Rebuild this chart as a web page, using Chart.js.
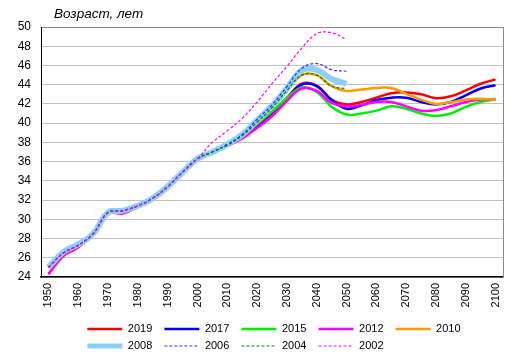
<!DOCTYPE html>
<html>
<head>
<meta charset="utf-8">
<script src="https://cdn.jsdelivr.net/npm/chart.js@4.4.1/dist/chart.umd.min.js"></script>
<style>
  html, body { margin: 0; padding: 0; background: #fff; }
  #wrap { position: relative; width: 517px; height: 357px; }
  #title { position: absolute; left: 54px; top: 7px; font: italic 13.5px "Liberation Sans", Arial, sans-serif; line-height: 1; color: #000; white-space: nowrap; }
</style>
</head>
<body>
<div id="wrap">
  <canvas id="c" width="517" height="357"></canvas>
  <div id="title">Возраст, лет</div>
</div>
<script>
const years = [];
for (let y = 1950; y <= 2100; y += 5) years.push(String(y));

const yTicks = [24, 26, 28, 30, 32, 34, 36, 38, 40, 42, 44, 46, 48, 50];

const seriesNames = ['2019', '2017', '2015', '2012', '2010', '2008', '2006', '2004', '2002'];

const v2019 = [24.3, 26.2, 27.1, 28.5, 30.7, 30.9, 31.4, 32.2, 33.4, 34.9, 36.3, 37.0, 37.7, 38.5, 39.7, 41.0, 42.6, 44.1, 43.9, 42.45, 41.95, 42.2, 42.65, 43.1, 43.2, 43.0, 42.6, 42.8, 43.4, 44.1, 44.55];
const v2017 = [25.0, 26.5, 27.3, 28.5, 30.7, 30.9, 31.4, 32.2, 33.4, 34.9, 36.3, 37.0, 37.7, 38.5, 39.8, 41.1, 42.6, 44.0, 43.85, 42.4, 41.5, 41.85, 42.4, 42.65, 42.65, 42.2, 41.95, 42.2, 42.9, 43.6, 43.95];
const v2015 = [25.0, 26.5, 27.3, 28.5, 30.9, 30.9, 31.4, 32.2, 33.4, 34.9, 36.3, 37.0, 37.7, 38.6, 39.9, 41.2, 42.6, 43.7, 43.25, 41.7, 40.9, 41.0, 41.3, 41.75, 41.5, 41.0, 40.75, 41.0, 41.7, 42.2, 42.45];
const v2012 = [24.3, 26.2, 27.1, 28.4, 30.6, 30.6, 31.3, 32.2, 33.4, 34.9, 36.3, 37.0, 37.6, 38.4, 39.5, 40.7, 42.3, 43.6, 43.35, 42.1, 41.75, 41.9, 42.2, 42.2, 41.75, 41.3, 41.35, 41.75, 42.2, 42.45, 42.5];
const v2010 = [25.0, 26.5, 27.3, 28.5, 30.7, 30.9, 31.4, 32.2, 33.4, 34.9, 36.3, 37.0, 37.7, 38.6, 40.0, 41.5, 43.3, 45.0, 45.0, 43.85, 43.35, 43.5, 43.65, 43.65, 43.05, 42.45, 42.0, 42.2, 42.45, 42.55, 42.45];
const v2008 = [25.0, 26.6, 27.4, 28.5, 30.7, 30.9, 31.4, 32.2, 33.4, 34.9, 36.3, 37.0, 37.8, 38.8, 40.3, 41.8, 43.6, 45.5, 45.55, 44.6, 44.1];
const v2006 = [25.0, 26.5, 27.3, 28.5, 30.7, 30.9, 31.4, 32.2, 33.4, 34.9, 36.3, 37.0, 37.8, 38.8, 40.4, 41.9, 43.8, 45.7, 46.2, 45.55, 45.4];
const v2004 = [25.0, 26.5, 27.3, 28.5, 30.7, 30.9, 31.4, 32.2, 33.4, 34.9, 36.3, 37.0, 37.7, 38.7, 40.1, 41.6, 43.4, 45.0, 45.0, 43.85, 43.6];
const v2002 = [25.0, 26.5, 27.3, 28.5, 30.7, 30.9, 31.4, 32.2, 33.4, 34.9, 36.3, 38.0, 39.2, 40.5, 42.2, 44.1, 45.9, 47.8, 49.3, 49.4, 48.7];

const values = [v2019, v2017, v2015, v2012, v2010, v2008, v2006, v2004, v2002];
const colors = ['#ff0000', '#0000ff', '#00f000', '#ff00ff', '#ff9900', '#8ccffa', '#2a2aff', '#008000', '#ff00ff'];
const widths = [2.5, 2.5, 2.5, 2.5, 2.5, 6, 1.2, 1.2, 1.2];
const dashes = [[], [], [], [], [], [], [3, 2], [3, 2], [3, 2]];

const datasets = seriesNames.map((name, i) => ({
  label: name,
  data: values[i],
  borderColor: colors[i],
  backgroundColor: colors[i],
  borderWidth: widths[i],
  borderDash: dashes[i],
  pointRadius: 0,
  pointHoverRadius: 0,
  tension: 0.4,
  fill: false,
  order: seriesNames.length - 1 - i
}));

const FONT = '"Liberation Sans", Arial, sans-serif';

const legendShift = {
  id: 'legendShift',
  afterLayout(chart) {
    const lg = chart.legend;
    if (lg) { lg.left += 5; lg.right += 5; }
  }
};

new Chart(document.getElementById('c'), {
  type: 'line',
  data: { labels: years, datasets },
  plugins: [legendShift],
  options: {
    responsive: false,
    animation: false,
    events: [],
    layout: { padding: { top: 27, right: 14, left: 0, bottom: -4.5 } },
    scales: {
      x: {
        type: 'category',
        offset: true,
        grid: { display: false, drawTicks: false },
        border: { display: true, color: '#000', width: 1.5 },
        ticks: {
          autoSkip: false,
          maxRotation: 90,
          minRotation: 90,
          padding: 6,
          color: '#000',
          font: { family: FONT, size: 11 },
          callback: function (val) {
            const lab = this.getLabelForValue(val);
            return (+lab) % 10 === 0 ? lab : '';
          }
        },
        afterFit: (s) => { s.height = 40.5; }
      },
      y: {
        min: 24,
        max: 50,
        afterBuildTicks: (s) => { s.ticks = yTicks.map(v => ({ value: v })); },
        grid: {
          drawTicks: false,
          color: (ctx) => (ctx.tick && ctx.tick.value === 50 ? '#8c8c8c' : '#c0c0c0'),
          lineWidth: 1
        },
        border: { display: true, color: '#000', width: 1 },
        ticks: {
          padding: 10,
          color: '#000',
          font: { family: FONT, size: 12 }
        },
        afterFit: (s) => { s.width = 41; }
      },
      yR: {
        position: 'right',
        display: true,
        grid: { display: false, drawTicks: false },
        ticks: { display: false },
        border: { display: true, color: '#8c8c8c', width: 1 },
        afterFit: (s) => { s.width = 0; }
      }
    },
    plugins: {
      title: { display: false },
      tooltip: { enabled: false },
      legend: {
        display: true,
        position: 'bottom',
        fullSize: false,
        align: 'center',
        onClick: () => {},
        labels: {
          usePointStyle: true,
          pointStyle: 'line',
          pointStyleWidth: 35,
          padding: 6,
          color: '#000',
          font: { family: FONT, size: 11 },
          generateLabels: (chart) => {
            const items = Chart.defaults.plugins.legend.labels.generateLabels(chart);
            items.sort((a, b) => a.datasetIndex - b.datasetIndex);
            items.forEach(it => {
              const i = it.datasetIndex;
              it.text = it.text + '  ';
              it.pointStyle = 'line';
              it.lineDash = dashes[i];
              it.lineWidth = i === 5 ? 5 : widths[i];
              it.strokeStyle = colors[i];
            });
            items.push({
              text: '2000  ',
              fillStyle: 'rgba(0,0,0,0)',
              strokeStyle: 'rgba(0,0,0,0)',
              fontColor: 'rgba(0,0,0,0)',
              lineWidth: 0,
              lineDash: [],
              pointStyle: 'line',
              hidden: false,
              datasetIndex: 100
            });
            return items;
          }
        }
      }
    }
  }
});
</script>
</body>
</html>
